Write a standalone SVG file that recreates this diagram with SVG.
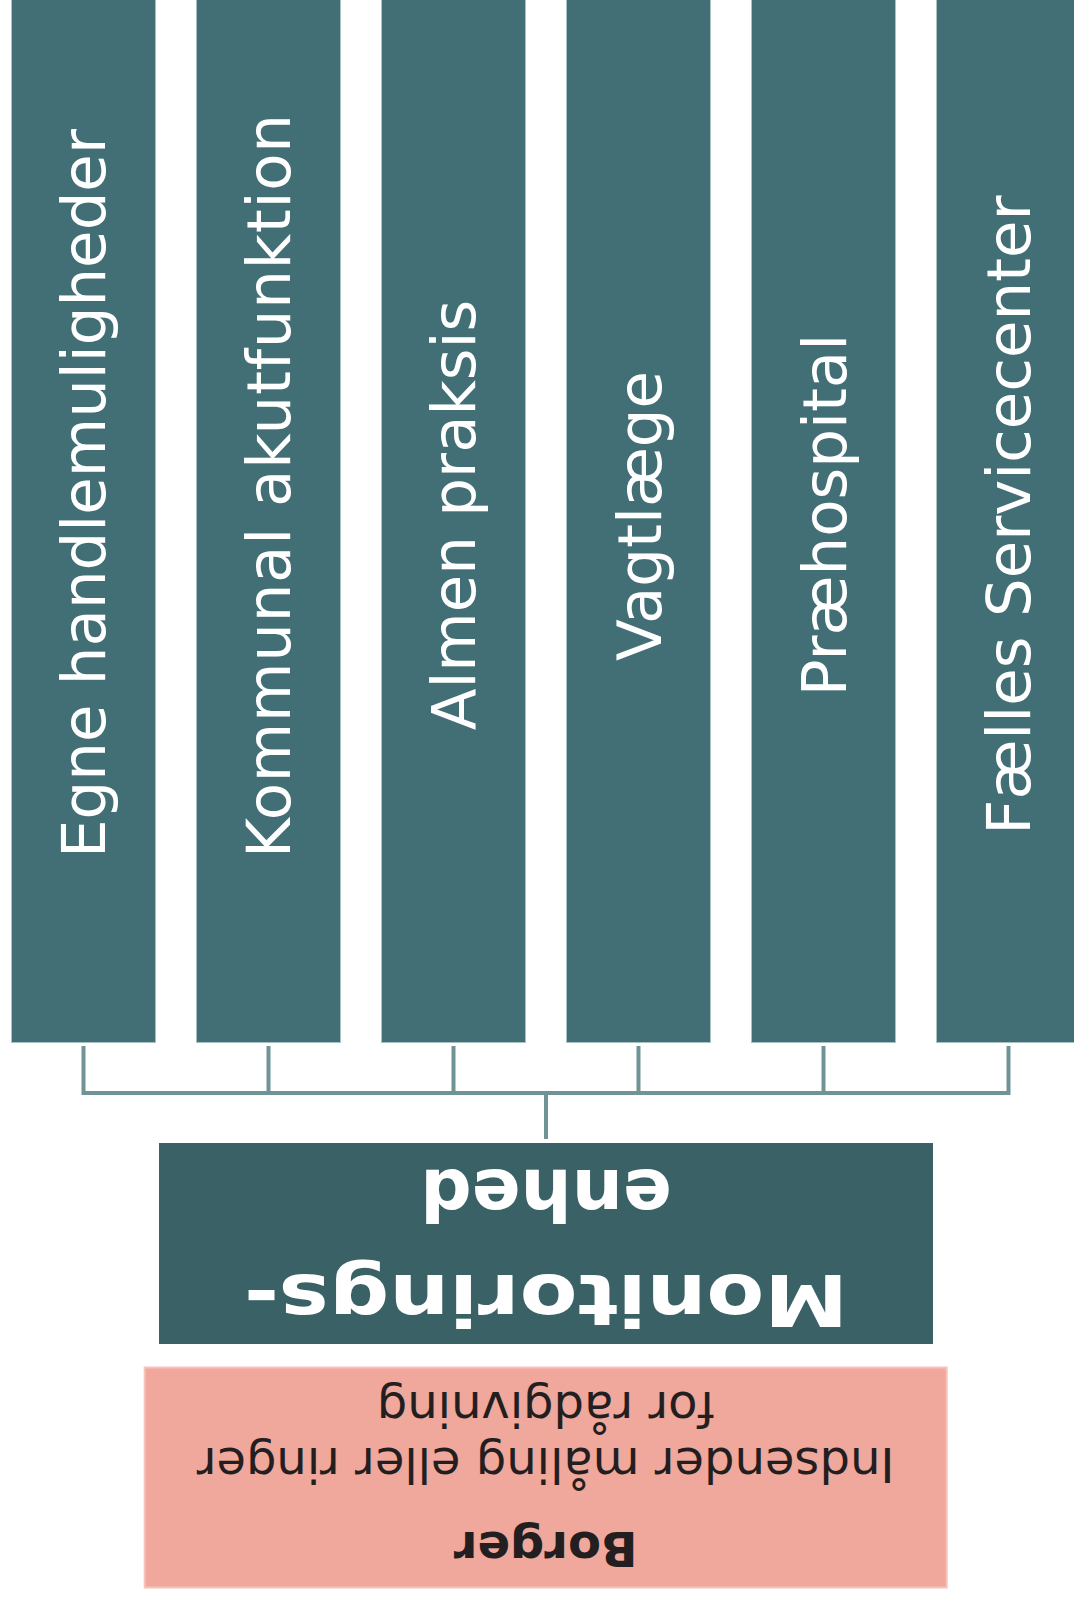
<svg xmlns="http://www.w3.org/2000/svg" width="1074" height="1598" viewBox="0 0 1074 1598">
  <style>
    .col { fill: #426f75; stroke: #a9c2c4; stroke-width: 1; }
    .coltxt { fill: #ffffff; font-family: "DejaVu Sans", Verdana, sans-serif; font-size: 61px; }
    .conn { fill: none; stroke: #709496; stroke-width: 4; }
    .mon { fill: #3a6266; }
    .montxt { fill: #ffffff; font-family: "DejaVu Sans", Verdana, sans-serif; font-weight: bold; font-size: 72px; text-anchor: middle; }
    .borger { fill: #f0a79c; stroke: #f5c3bb; stroke-width: 2; }
    .btxt { fill: #231f20; font-family: "DejaVu Sans", Verdana, sans-serif; font-size: 48px; text-anchor: middle; }
  </style>
  <rect width="1074" height="1598" fill="#ffffff"/>

  <g id="connectors">
    <path class="conn" d="M83.5 1046 V1093 H546 V1139"/>
    <path class="conn" d="M268.5 1046 V1093 H546"/>
    <path class="conn" d="M453.5 1046 V1093 H546"/>
    <path class="conn" d="M638.5 1046 V1093 H546"/>
    <path class="conn" d="M823.5 1046 V1093 H546"/>
    <path class="conn" d="M1008.5 1046 V1093 H546"/>
  </g>

  <g id="node-egne">
    <rect class="col" x="11.5" y="-2" width="144" height="1044.5"/>
    <text class="coltxt" transform="translate(104.5 858) rotate(-90)">Egne handlemuligheder</text>
  </g>
  <g id="node-kommunal">
    <rect class="col" x="196.5" y="-2" width="144" height="1044.5"/>
    <text class="coltxt" transform="translate(290 858) rotate(-90)" textLength="744" lengthAdjust="spacing">Kommunal akutfunktion</text>
  </g>
  <g id="node-almen">
    <rect class="col" x="381.5" y="-2" width="144" height="1044.5"/>
    <text class="coltxt" text-anchor="middle" transform="translate(475 515) rotate(-90)">Almen praksis</text>
  </g>
  <g id="node-vagtlaege">
    <rect class="col" x="566.5" y="-2" width="144" height="1044.5"/>
    <text class="coltxt" text-anchor="middle" transform="translate(660.5 516) rotate(-90)">Vagtlæge</text>
  </g>
  <g id="node-praehospital">
    <rect class="col" x="751.5" y="-2" width="144" height="1044.5"/>
    <text class="coltxt" text-anchor="middle" transform="translate(845.5 515) rotate(-90)">Præhospital</text>
  </g>
  <g id="node-faelles">
    <rect class="col" x="936.5" y="-2" width="144" height="1044.5"/>
    <text class="coltxt" text-anchor="middle" transform="translate(1030 515) rotate(-90)">Fælles Servicecenter</text>
  </g>

  <g id="node-monitorering">
    <rect class="mon" x="159" y="1143" width="774" height="201"/>
    <g transform="rotate(180 546 1243.5)">
      <text class="montxt" x="546" y="1212" textLength="604" lengthAdjust="spacingAndGlyphs">Monitorings-</text>
      <text class="montxt" x="546" y="1317">enhed</text>
    </g>
  </g>

  <g id="node-borger">
    <rect class="borger" x="144.7" y="1367.5" width="802" height="220"/>
    <g transform="rotate(180 545.6 1477.6)">
      <text class="btxt" x="545.6" y="1423.4" font-weight="bold" font-size="46">Borger</text>
      <text class="btxt" x="545.6" y="1506.8" font-size="48.5">Indsender måling eller ringer</text>
      <text class="btxt" x="545.6" y="1563.4">for rådgivning</text>
    </g>
  </g>
</svg>
